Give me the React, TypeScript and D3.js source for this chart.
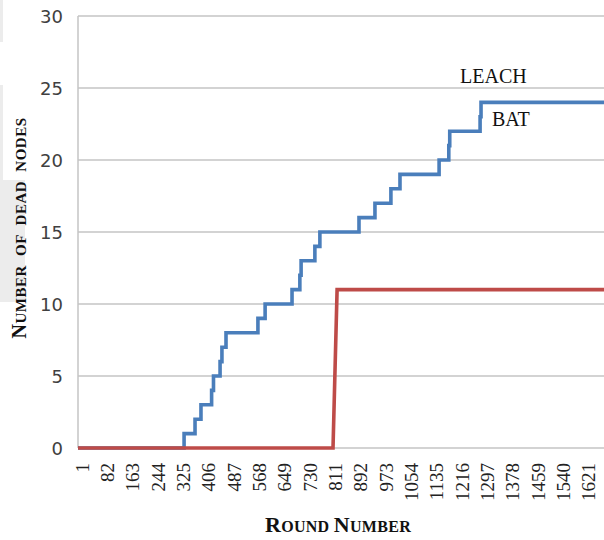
import * as d3 from "d3";

// rounds where the dead-node count changes, and the count from that round on
const leachRounds = [1, 340, 375, 394, 428, 434, 455, 461, 474, 576, 599, 685, 710, 714, 758, 774, 899, 950, 1001, 1030, 1155, 1186, 1189, 1286, 1289, 1682];
const leachDead = [0, 1, 2, 3, 4, 5, 6, 7, 8, 9, 10, 11, 12, 13, 14, 15, 16, 17, 18, 19, 20, 21, 22, 23, 24, 24];

const batRounds = [1, 816, 829, 1682];
const batDead = [0, 0, 11, 11];

const roundTicks = [1, 82, 163, 244, 325, 406, 487, 568, 649, 730, 811, 892, 973, 1054, 1135, 1216, 1297, 1378, 1459, 1540, 1621];
const deadTicks = [0, 5, 10, 15, 20, 25, 30];

const W = 604;
const H = 540;
const margin = { top: 16, right: 0, bottom: 92, left: 78 };

const serif = "'Liberation Serif', 'Times New Roman', serif";

export default function App() {
  const x = d3.scaleLinear().domain([1, 1682]).range([margin.left, W - margin.right]);
  const y = d3.scaleLinear().domain([0, 30]).range([H - margin.bottom, margin.top]);

  const stepLine = d3.line<[number, number]>()
    .x(d => x(d[0]))
    .y(d => y(d[1]))
    .curve(d3.curveStepAfter);

  const plainLine = d3.line<[number, number]>()
    .x(d => x(d[0]))
    .y(d => y(d[1]));

  const leach = leachRounds.map((r, i) => [r, leachDead[i]] as [number, number]);
  const bat = batRounds.map((r, i) => [r, batDead[i]] as [number, number]);

  return (
    <div style={{ position: "absolute", left: 0, top: 0 }}>
      <svg width={W} height={H} style={{ display: "block", background: "#fff" }}>
        {/* scraps of grey page edge from the original scan */}
        <rect x={0} y={0} width={3} height={42} fill="#ececec" />
        <rect x={0} y={85} width={3} height={100} fill="#ececec" />
        <rect x={0} y={180} width={25} height={122} fill="#ececec" />

        {/* grid */}
        {deadTicks.map(t => (
          <line key={t} x1={margin.left} x2={W} y1={y(t)} y2={y(t)} stroke="#c4c4c4" strokeWidth={1.5} />
        ))}
        <line x1={margin.left} x2={margin.left} y1={y(30)} y2={y(0)} stroke="#c4c4c4" strokeWidth={1.5} />

        {/* y tick labels */}
        {deadTicks.map(t => (
          <text key={t} x={63} y={y(t)} textAnchor="end" dominantBaseline="central"
            fontFamily="'DejaVu Sans', sans-serif" fontSize={18} fill="#404040">{t}</text>
        ))}

        {/* x tick labels, nudged right like the original */}
        {roundTicks.map(t => (
          <text key={t} transform={`translate(${x(t) + 4},463) rotate(-90)`} textAnchor="end" dominantBaseline="central"
            fontFamily={serif} fontSize={19} fill="#222">{t}</text>
        ))}

        {/* series */}
        <path d={stepLine(leach) ?? ""} fill="none" stroke="#4a7ebb" strokeWidth={3.6} />
        <path d={plainLine(bat) ?? ""} fill="none" stroke="#be4b48" strokeWidth={3.6} />

        {/* series labels */}
        <text x={460} y={83} fontFamily={serif} fontSize={20} fill="#111">LEACH</text>
        <text x={492} y={126} fontFamily={serif} fontSize={20} fill="#111">BAT</text>

        {/* axis titles */}
        <text x={338} y={532} textAnchor="middle" fontFamily={serif} fontWeight="bold" fill="#111" letterSpacing={0.3}>
          <tspan fontSize={22}>R</tspan><tspan fontSize={16}>OUND </tspan><tspan fontSize={22}>N</tspan><tspan fontSize={16}>UMBER</tspan>
        </text>
        <text transform="translate(26,228) rotate(-90)" textAnchor="middle" fontFamily={serif} fontWeight="bold" fill="#111"
          letterSpacing={0.5} wordSpacing={5}>
          <tspan fontSize={20}>N</tspan><tspan fontSize={15}>UMBER OF DEAD NODES</tspan>
        </text>
      </svg>
    </div>
  );
}
